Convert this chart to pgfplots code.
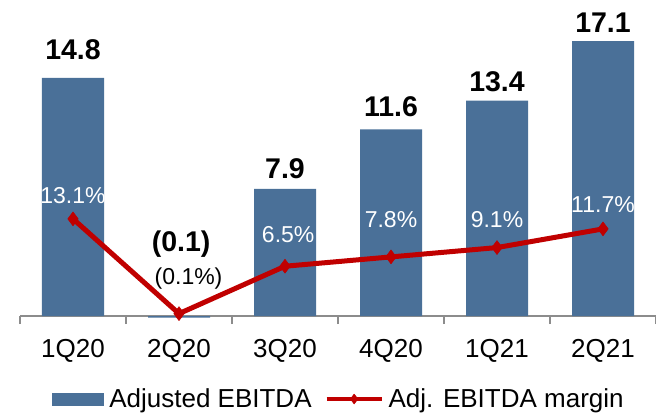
\documentclass[border=0pt]{standalone}
\usepackage{pgfplots}
\pgfplotsset{compat=1.18}
\usepackage{fontspec}
\setmainfont{Liberation Sans}

\definecolor{barblue}{HTML}{4A7098}
\definecolor{marginred}{HTML}{C00000}
\definecolor{axisgray}{HTML}{8C8C8C}

\newcommand{\ticksize}{\fontsize{26bp}{30bp}\selectfont}
\newcommand{\valsize}{\fontsize{28.5bp}{33bp}\selectfont\bfseries}
\newcommand{\pctsize}{\fontsize{23bp}{27bp}\selectfont}

\pgfplotsset{
    barlegend/.style={legend image code/.code={\fill[##1] (0bp,-6.5bp) rectangle (52bp,6.5bp);}},
    linelegend/.style={legend image code/.code={\draw[##1, line width=4bp, mark size=5bp, mark repeat=2, mark phase=2]
        plot coordinates {(0bp,0bp) (27.5bp,0bp) (55bp,0bp)};}},
}

\begin{document}
\begin{tikzpicture}
\useasboundingbox (-20bp,-97bp) rectangle (636bp,316bp);

% bars: Adjusted EBITDA
\begin{axis}[
    at={(0,0)}, anchor=south west,
    width=636bp, height=316bp, scale only axis,
    xmin=-0.5, xmax=5.5,
    ymin=0, ymax=19.65,
    axis y line=none,
    axis x line*=bottom,
    axis line style={axisgray, line width=1.5bp},
    xtick={0,...,5},
    xticklabels={1Q20,2Q20,3Q20,4Q20,1Q21,2Q21},
    major tick length=0pt,
    minor xtick={-0.5,0.5,...,5.5},
    minor tick length=8bp,
    tick align=outside,
    minor tick style={axisgray, line width=1.5bp},
    xticklabel style={font=\ticksize, anchor=base, yshift=-41bp},
    clip=false,
]
\addplot[ybar, bar width=62bp, fill=barblue, draw=none]
    coordinates {(0,14.8) (1,-0.1) (2,7.9) (3,11.6) (4,13.4) (5,17.1)};

\node[anchor=base, font=\valsize] at (axis cs:0,15.92) {14.8};
\node[anchor=base, font=\valsize] at (axis cs:1.02,3.98) {(0.1)};
\node[anchor=base, font=\valsize] at (axis cs:2,8.58) {7.9};
\node[anchor=base, font=\valsize] at (axis cs:3,12.38) {11.6};
\node[anchor=base, font=\valsize] at (axis cs:4,13.93) {13.4};
\node[anchor=base, font=\valsize] at (axis cs:5,17.66) {17.1};
\end{axis}

% line: Adj. EBITDA margin
\begin{axis}[
    at={(0,0)}, anchor=south west,
    width=636bp, height=316bp, scale only axis,
    xmin=-0.5, xmax=5.5,
    ymin=-0.43, ymax=43.58,
    hide axis,
    clip=false,
    legend columns=2,
    legend style={draw=none, fill=none, font=\ticksize,
        at={(0.5,-0.2627)}, anchor=center,
        nodes={inner sep=0pt},
        /tikz/every odd column/.append style={column sep=5bp},
        /tikz/every even column/.append style={column sep=13bp}},
]
\addlegendimage{fill=barblue, draw=none, barlegend}
\addlegendentry{Adjusted EBITDA}

\addplot[color=marginred, line width=5bp, line join=round,
    mark=diamond*, mark size=7bp,
    mark options={line width=0.5bp, fill=marginred},
    linelegend]
    coordinates {(0,13.1) (1,-0.1) (2,6.5) (3,7.8) (4,9.1) (5,11.7)};
\addlegendentry{Adj. EBITDA margin}

\node[anchor=base, font=\pctsize, text=white] at (axis cs:0,15.17) {13.1\%};
\node[anchor=base, font=\pctsize] at (axis cs:1.09,3.89) {(0.1\%)};
\node[anchor=base, font=\pctsize, text=white] at (axis cs:2.03,9.74) {6.5\%};
\node[anchor=base, font=\pctsize, text=white] at (axis cs:3,11.93) {7.8\%};
\node[anchor=base, font=\pctsize, text=white] at (axis cs:4,11.93) {9.1\%};
\node[anchor=base, font=\pctsize, text=white] at (axis cs:5,14.02) {11.7\%};
\end{axis}
\end{tikzpicture}
\end{document}
